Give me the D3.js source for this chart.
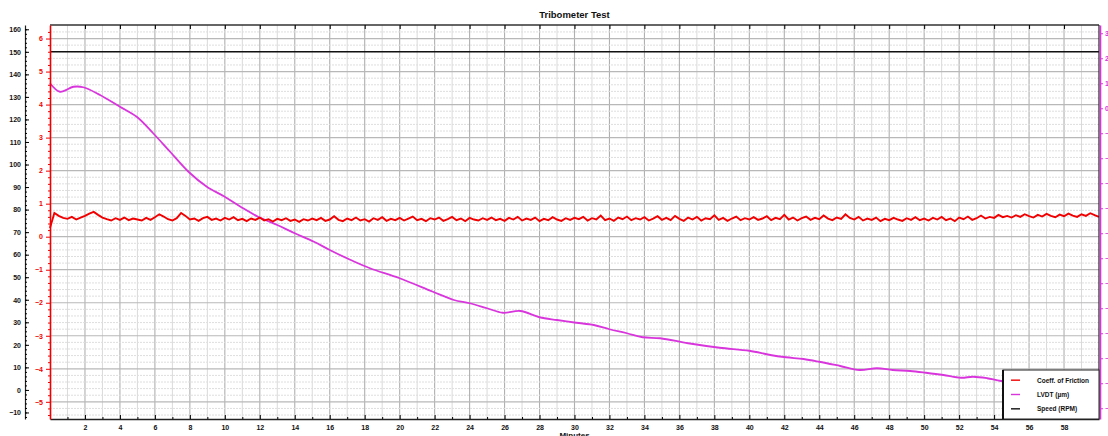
<!DOCTYPE html>
<html><head><meta charset="utf-8">
<script src="https://cdn.jsdelivr.net/npm/d3@7/dist/d3.min.js"></script>
<style>
body{margin:0;background:#fff;}
svg text{font-family:"Liberation Sans",Arial,sans-serif;font-weight:bold;}
</style></head>
<body><svg id="c" width="1108" height="436"></svg>
<script>
// ---- data ----
const minuteTicks = [2,4,6,8,10,12,14,16,18,20,22,24,26,28,30,32,34,36,38,40,42,44,46,48,50,52,54,56,58];
const speedTicks = [-10,0,10,20,30,40,50,60,70,80,90,100,110,120,130,140,150,160];
const cofTicks = [-5,-4,-3,-2,-1,0,1,2,3,4,5,6];
const lvdtTicks = [30,20,10,0,-10,-20,-30,-40,-50,-60,-70,-80,-90,-100,-110,-120];

const speedTimes = [0, 60];
const speedValues = [150, 150];

const cofStart = 0, cofStep = 0.25;
const cofValues = [0.26,
 0.72,0.63,0.57,0.54,0.60,0.52,0.58,0.63,0.70,0.75,0.66,0.58,0.53,0.49,0.56,0.51,0.58,0.50,0.55,0.52,
 0.49,0.57,0.51,0.59,0.68,0.61,0.53,0.49,0.56,0.72,0.63,0.52,0.55,0.48,0.56,0.60,0.51,0.55,0.49,0.57,
 0.52,0.59,0.50,0.54,0.47,0.55,0.51,0.58,0.49,0.53,0.46,0.54,0.50,0.56,0.48,0.52,0.45,0.53,0.49,0.55,
 0.50,0.57,0.48,0.52,0.62,0.51,0.47,0.55,0.50,0.58,0.49,0.53,0.46,0.56,0.51,0.59,0.48,0.54,0.50,0.57,
 0.49,0.55,0.61,0.50,0.54,0.47,0.56,0.52,0.58,0.48,0.53,0.60,0.50,0.55,0.47,0.57,0.52,0.49,0.56,0.51,
 0.58,0.50,0.54,0.48,0.57,0.52,0.60,0.49,0.55,0.51,0.58,0.47,0.54,0.50,0.59,0.52,0.48,0.56,0.51,0.57,
 0.53,0.60,0.49,0.56,0.52,0.64,0.50,0.55,0.48,0.58,0.53,0.61,0.50,0.56,0.52,0.59,0.49,0.55,0.62,0.51,
 0.57,0.50,0.63,0.54,0.48,0.58,0.52,0.60,0.49,0.56,0.53,0.65,0.51,0.57,0.48,0.55,0.61,0.50,0.56,0.52,
 0.59,0.51,0.55,0.62,0.50,0.57,0.53,0.66,0.52,0.58,0.49,0.56,0.61,0.51,0.57,0.53,0.64,0.55,0.50,0.58,
 0.54,0.68,0.57,0.52,0.60,0.49,0.55,0.51,0.58,0.47,0.54,0.50,0.57,0.52,0.48,0.56,0.51,0.59,0.50,0.55,
 0.49,0.57,0.52,0.60,0.50,0.55,0.47,0.58,0.53,0.61,0.51,0.56,0.64,0.55,0.60,0.57,0.66,0.59,0.63,0.58,
 0.65,0.60,0.68,0.62,0.58,0.66,0.61,0.69,0.63,0.59,0.67,0.62,0.70,0.64,0.60,0.68,0.63,0.71,0.65,0.60];

const lvdtTimes = [0,0.57,1.34,1.9,2.86,4.0,4.96,5.9,6.87,7.92,8.97,9.92,10.9,11.9,13.0,14.0,15.1,16.0,17.2,18.3,20.0,21.9,23.1,24.0,25.0,25.9,26.9,28.0,29.0,30.1,31.1,32.0,33.0,33.9,34.9,36.5,38.3,40.0,41.2,42.1,43.1,44.0,45.2,46.3,47.3,48.2,49.2,50.1,51.1,52.1,52.8,53.6,54.4,56,58,60];
const lvdtValues = [10.0,6.6,8.6,8.4,5.3,0.6,-3.4,-10.0,-17.4,-25.4,-31.4,-35.1,-39.4,-43.4,-46.7,-50.0,-53.4,-56.7,-60.7,-64.0,-68.0,-73.4,-76.7,-78.0,-80.0,-81.8,-81.1,-83.6,-84.7,-85.8,-86.7,-88.4,-90.0,-91.6,-92.0,-94.0,-95.8,-97.0,-98.7,-99.6,-100.3,-101.4,-103.1,-104.7,-104.0,-104.7,-105.1,-105.8,-106.7,-107.8,-107.4,-108.0,-109.1,-110.0,-111.0,-112.0];

const legendLabels = ["Coeff. of Friction", "LVDT (\u00b5m)", "Speed (RPM)"];

// ---- layout ----
const L = 50, R = 1099, T = 25, B = 419;
const RED = "#f00000", MAG = "#d935dd";
const svg = d3.select("#c");

const x = d3.scaleLinear().domain([0, 60]).range([L, R]);
const ySpeed = d3.scaleLinear().domain([-12.9, 161.9]).range([B, T]);
const yCof = d3.scaleLinear().domain([-5.52, 6.41]).range([B, T]);
const yLvdt = d3.scaleLinear().domain([-124.3, 33.3]).range([B, T]);

// grid
const g = svg.append("g");
const minorX = d3.range(1, 60, 2);
g.selectAll(".vx").data(minorX).join("line")
  .attr("x1", d => x(d)).attr("x2", d => x(d)).attr("y1", T).attr("y2", B)
  .attr("stroke", "#dadada").attr("stroke-width", 1);
g.selectAll(".vX").data(minuteTicks).join("line")
  .attr("x1", d => x(d)).attr("x2", d => x(d)).attr("y1", T).attr("y2", B)
  .attr("stroke", "#b0b0b0").attr("stroke-width", 1.1);
const minorY = d3.range(-5.4, 6.4, 0.2).filter(v => Math.abs(v - Math.round(v)) > 0.05);
g.selectAll(".hy").data(minorY).join("line")
  .attr("x1", L).attr("x2", R).attr("y1", d => yCof(d)).attr("y2", d => yCof(d))
  .attr("stroke", "#dedede").attr("stroke-width", 1).attr("stroke-dasharray", "2,1");
g.selectAll(".hY").data(cofTicks).join("line")
  .attr("x1", L).attr("x2", R).attr("y1", d => yCof(d)).attr("y2", d => yCof(d))
  .attr("stroke", "#b8b8b8").attr("stroke-width", 1.2);

// series
const speedData = speedTimes.map((t, i) => [t, speedValues[i]]);
svg.append("path").datum(speedData)
  .attr("d", d3.line().x(d => x(d[0])).y(d => ySpeed(d[1])))
  .attr("fill", "none").attr("stroke", "#111").attr("stroke-width", 1.6);

const lvdtData = lvdtTimes.map((t, i) => [t, lvdtValues[i]]);
svg.append("path").datum(lvdtData)
  .attr("d", d3.line().curve(d3.curveCatmullRom).x(d => x(d[0])).y(d => yLvdt(d[1])))
  .attr("fill", "none").attr("stroke", MAG).attr("stroke-width", 1.8);

const cofData = cofValues.map((v, i) => [cofStart + i * cofStep, v]);
svg.append("path").datum(cofData)
  .attr("d", d3.line().x(d => x(d[0])).y(d => yCof(d[1])))
  .attr("fill", "none").attr("stroke", RED).attr("stroke-width", 1.9).attr("stroke-linejoin", "miter");

// frame top / right
svg.append("line").attr("x1", L).attr("x2", R).attr("y1", T).attr("y2", T).attr("stroke", "#333").attr("stroke-width", 1.5);
svg.append("line").attr("x1", R).attr("x2", R).attr("y1", T).attr("y2", B).attr("stroke", "#222").attr("stroke-width", 1.2);

// bottom axis
const bx = svg.append("g").attr("transform", `translate(0,${B})`)
  .call(d3.axisBottom(x).tickValues(minuteTicks).tickFormat(d3.format("d")).tickSizeInner(-4).tickSizeOuter(0).tickPadding(6));
bx.select(".domain").attr("stroke", "#222").attr("stroke-width", 1.5);
bx.selectAll("text").attr("font-size", 7).attr("fill", "#111");
svg.append("g").attr("transform", `translate(0,${B})`)
  .call(d3.axisBottom(x).tickValues(minorX).tickFormat("").tickSizeInner(-2).tickSizeOuter(0))
  .select(".domain").remove();
// top ticks
svg.append("g").attr("transform", `translate(0,${T})`)
  .call(d3.axisTop(x).tickValues(minuteTicks).tickFormat("").tickSizeInner(-4).tickSizeOuter(0))
  .select(".domain").remove();

// black speed axis
const ax1 = svg.append("g").attr("transform", "translate(25,0)")
  .call(d3.axisLeft(ySpeed).tickValues(speedTicks).tickFormat(d3.format("d")).tickSizeInner(-4).tickSizeOuter(0).tickPadding(4));
ax1.select(".domain").attr("stroke", "#222").attr("stroke-width", 1.2);
ax1.selectAll("text").attr("font-size", 7).attr("fill", "#111");
svg.append("g").attr("transform", "translate(25,0)")
  .call(d3.axisLeft(ySpeed).tickValues(d3.range(-12, 162, 2)).tickFormat("").tickSizeInner(-2).tickSizeOuter(0))
  .select(".domain").remove();

// red COF axis
const ax2 = svg.append("g").attr("transform", `translate(${L},0)`)
  .call(d3.axisLeft(yCof).tickValues(cofTicks).tickFormat(d3.format("d")).tickSizeInner(4).tickSizeOuter(0).tickPadding(3));
ax2.select(".domain").attr("stroke", RED).attr("stroke-width", 1.6);
ax2.selectAll("line").attr("stroke", RED);
ax2.selectAll("text").attr("font-size", 7).attr("fill", RED);
svg.append("g").attr("transform", `translate(${L},0)`)
  .call(d3.axisLeft(yCof).tickValues(minorY).tickFormat("").tickSizeInner(2).tickSizeOuter(0))
  .call(s => s.select(".domain").remove())
  .selectAll("line").attr("stroke", RED);

// magenta LVDT axis
const ax3 = svg.append("g").attr("transform", `translate(${R + 1},0)`)
  .call(d3.axisRight(yLvdt).tickValues(lvdtTicks).tickFormat(d3.format("d")).tickSizeInner(3).tickSizeOuter(0).tickPadding(2));
ax3.select(".domain").attr("stroke", MAG).attr("stroke-width", 1.6);
ax3.selectAll("line").attr("stroke", MAG);
ax3.selectAll("text").attr("font-size", 7).attr("fill", MAG);

// title and axis label
svg.append("text").attr("x", (L + R) / 2).attr("y", 18).attr("text-anchor", "middle")
  .attr("font-size", 9.5).attr("fill", "#111").text("Tribometer Test");
svg.append("text").attr("x", (L + R) / 2).attr("y", 438).attr("text-anchor", "middle")
  .attr("font-size", 8).attr("fill", "#111").text("Minutes");

// legend
const lg = svg.append("g");
lg.append("rect").attr("x", 1003).attr("y", 370).attr("width", R - 1003).attr("height", B - 370)
  .attr("fill", "#fff").attr("stroke", "#222").attr("stroke-width", 1);
lg.append("line").attr("x1", 1003).attr("x2", 1003).attr("y1", 370).attr("y2", B).attr("stroke", "#111").attr("stroke-width", 2);
const legColors = [RED, MAG, "#111"];
const legY = d3.scaleBand().domain(legendLabels).range([373, 416]);
legendLabels.forEach((lab, i) => {
  const yy = legY(lab) + legY.bandwidth() / 2;
  lg.append("line").attr("x1", 1011).attr("x2", 1020).attr("y1", yy).attr("y2", yy)
    .attr("stroke", legColors[i]).attr("stroke-width", 1.4);
  lg.append("text").attr("x", 1037).attr("y", yy + 2.5).attr("font-size", 6.5).attr("fill", "#111").text(lab);
});
</script>
</body></html>
